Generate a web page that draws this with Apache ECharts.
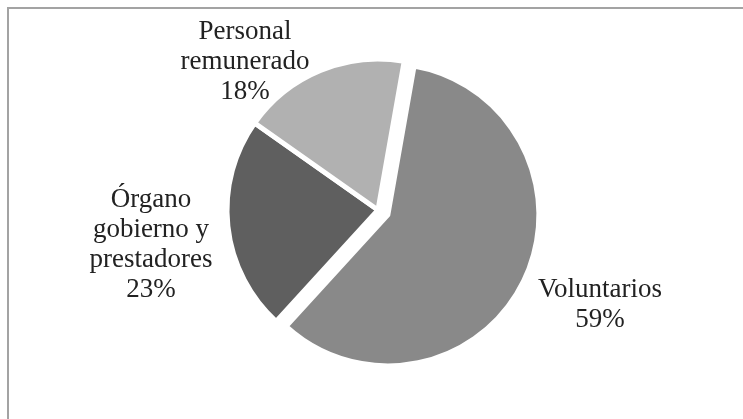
<!DOCTYPE html>
<html>
<head>
<meta charset="utf-8">
<style>
  html, body { margin: 0; padding: 0; background: #ffffff; }
  #chart { width: 743px; height: 419px; }
</style>
<script src="https://cdn.jsdelivr.net/npm/echarts@6/dist/echarts.min.js"></script>
</head>
<body>
<div id="chart"></div>
<script>
// Distribution of personnel by group (percent of total)
const categories = ['Voluntarios', 'Órgano\ngobierno y\nprestadores', 'Personal\nremunerado'];
const shares = [59, 23, 18];
const sliceColors = ['#898989', '#5f5f5f', '#b1b1b1'];

// label block centres, one per slice
const labelAnchors = [[600, 305], [151, 245], [245, 62]];

const chart = echarts.init(document.getElementById('chart'), null, { renderer: 'canvas' });

const pieBase = {
  type: 'pie',
  center: [378, 210],
  radius: [0, 151],
  startAngle: 80,
  clockwise: true,
  percentPrecision: 0,
  avoidLabelOverlap: false,
  emphasis: { disabled: true },
  labelLine: { show: false }
};

chart.setOption({
  backgroundColor: '#ffffff',
  animation: false,
  graphic: [{
    type: 'rect',
    shape: { x: 8, y: 8, width: 800, height: 500 },
    style: { fill: 'none', stroke: '#a3a3a3', lineWidth: 2 },
    silent: true,
    z: 0
  }],
  series: [
    // slices, with the volunteers slice pulled out
    Object.assign({}, pieBase, {
      selectedMode: 'single',
      selectedOffset: 11,
      itemStyle: { borderColor: '#ffffff', borderWidth: 5 },
      label: { show: false },
      data: categories.map((name, i) => ({
        name: name,
        value: shares[i],
        selected: i === 0,
        itemStyle: { color: sliceColors[i] }
      }))
    }),
    // category / percent labels
    Object.assign({}, pieBase, {
      silent: true,
      z: 3,
      itemStyle: { color: 'rgba(0,0,0,0)', borderWidth: 0 },
      label: {
        show: true,
        position: 'outside',
        formatter: '{b}\n{d}%',
        fontFamily: 'Liberation Serif',
        fontSize: 27,
        lineHeight: 30,
        color: '#222222',
        align: 'center'
      },
      labelLayout: function (params) {
        const p = labelAnchors[params.dataIndex];
        return { x: p[0], y: p[1], align: 'center', verticalAlign: 'middle' };
      },
      data: categories.map((name, i) => ({ name: name, value: shares[i] }))
    })
  ]
});
</script>
</body>
</html>
